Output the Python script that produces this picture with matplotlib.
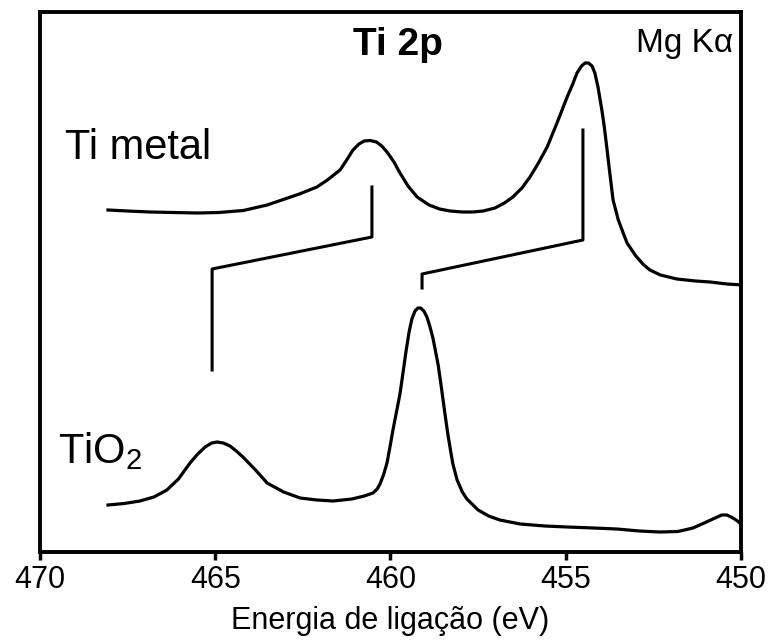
import matplotlib
matplotlib.use("Agg")
import matplotlib.pyplot as plt

plt.rcParams['font.family'] = ['Liberation Sans', 'DejaVu Sans']
plt.rcParams['mathtext.default'] = 'regular'

# Ti metal spectrum (binding energy eV, intensity a.u.)
metal_e = [468.06, 467.5, 466.86, 466.2, 465.5, 464.9, 464.2, 463.52, 463.1, 462.6,
           462.10, 461.8, 461.44, 461.25, 461.07, 460.9, 460.75, 460.58, 460.4, 460.25,
           460.10, 459.9, 459.73, 459.5, 459.24, 458.9, 458.6, 458.30, 457.95, 457.65,
           457.35, 457.02, 456.75, 456.51, 456.25, 456.02, 455.78, 455.53, 455.25, 454.96,
           454.80, 454.68, 454.55, 454.45, 454.35, 454.25, 454.17, 454.08, 453.97, 453.90,
           453.82, 453.74, 453.65, 453.50, 453.35, 453.25, 453.0, 452.8, 452.60, 452.3,
           451.83, 451.3, 450.88, 450.4, 449.97]
metal_i = [342, 341, 340, 339.5, 339, 339.5, 341.5, 347, 352, 358,
           365, 372, 382, 392, 402, 408, 411, 411.5, 410, 406,
           400, 390, 379, 366, 355, 347, 343, 341, 340, 340,
           341, 344, 349, 355, 364, 375, 389, 405, 429, 455,
           468, 479, 486, 489, 489, 486, 479, 465, 442, 425,
           402, 378, 352, 332, 318, 309, 296, 288, 282, 277,
           273, 271, 270, 268, 267]

# TiO2 spectrum
tio2_e = [468.06, 467.6, 467.15, 466.75, 466.38, 466.05, 465.72, 465.5, 465.29, 465.1,
          464.95, 464.77, 464.58, 464.4, 464.21, 463.85, 463.52, 463.05, 462.58, 462.1,
          461.64, 461.1, 460.75, 460.50, 460.38, 460.30, 460.20, 460.10, 460.0, 459.93,
          459.83, 459.73, 459.64, 459.56, 459.47, 459.39, 459.30, 459.22, 459.14, 459.05,
          458.96, 458.88, 458.79, 458.70, 458.64, 458.57, 458.50, 458.43, 458.36, 458.28,
          458.22, 458.10, 457.95, 457.82, 457.5, 457.2, 456.88, 456.3, 455.6, 454.96,
          454.2, 453.54, 452.9, 452.31, 451.8, 451.37, 451.05, 450.74, 450.55, 450.40,
          450.23, 450.1, 449.97]
tio2_i = [47, 48.5, 51, 55, 62, 73, 89, 98, 105, 109,
          110, 109, 106, 101, 95, 82, 69, 60, 54, 52,
          51, 53, 56, 59, 63, 68, 77, 89, 108, 122,
          140, 158, 180, 200, 220, 233, 241, 244, 244, 241,
          235, 226, 214, 198, 187, 170, 152, 134, 117, 100,
          88, 72, 60, 53, 42, 36, 32, 28, 26, 25,
          24, 23, 21, 20, 20.5, 24, 29, 34, 37, 37,
          34, 31, 27]

# spin-orbit shift markers
mark1_e = [460.53, 460.53, 465.09, 465.09]
mark1_i = [365, 315, 283, 182]
mark2_e = [454.51, 454.51, 459.10, 459.10]
mark2_i = [422, 312, 278, 264]

fig = plt.figure(figsize=(7.78, 6.41), dpi=100)
ax = fig.add_axes([40 / 778, 1 - 552 / 641, 701 / 778, 540 / 641])

ax.plot(metal_e, metal_i, color='black', lw=2.3, solid_joinstyle='round')
ax.plot(tio2_e, tio2_i, color='black', lw=2.3, solid_joinstyle='round')
ax.plot(mark1_e, mark1_i, color='black', lw=2.2)
ax.plot(mark2_e, mark2_i, color='black', lw=2.2)

ax.set_xlim(470, 450)
ax.set_ylim(0, 540)
ax.set_xticks([470, 465, 460, 455, 450])
ax.set_yticks([])
ax.tick_params(axis='x', direction='out', length=6, width=2.5, labelsize=22, pad=3)
for s in ax.spines.values():
    s.set_linewidth(2.8)

ax.set_xlabel('Energia de ligação (eV)', fontsize=22, labelpad=8)

ax.text(469.29, 393, 'Ti metal', fontsize=30, ha='left', va='baseline')
ax.text(469.49, 89, 'TiO$_2$', fontsize=30, ha='left', va='baseline')
ax.text(459.79, 497, 'Ti 2p', fontsize=28, fontweight='bold', ha='center', va='baseline')
ax.text(450.23, 500, 'Mg Kα', fontsize=24, ha='right', va='baseline')

fig.savefig('out.png', dpi=100)
